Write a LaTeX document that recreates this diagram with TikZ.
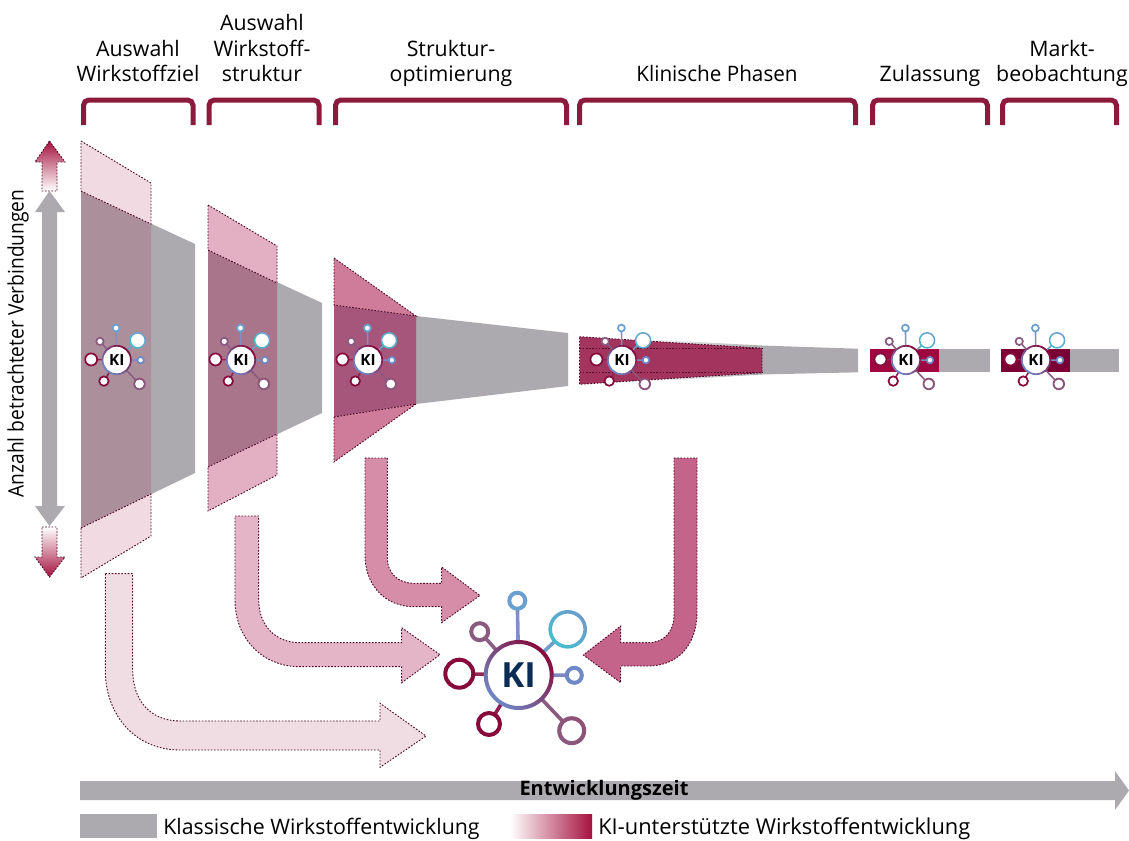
\documentclass[tikz,border=0pt]{standalone}
\usepackage{fontspec}
\setmainfont{Open Sans}
\definecolor{greyc}{HTML}{ACAAAE}
\definecolor{brk}{HTML}{8C1A3C}
\definecolor{dots}{HTML}{4E0A28}
\definecolor{crim}{HTML}{A5123F}
\definecolor{navy}{HTML}{0B2C54}
\tikzset{
  x=0.75pt,y=-0.75pt,
  dotline/.style={draw=dots,line width=0.7pt,dash pattern=on 1.2pt off 1.2pt},
  brack/.style={draw=brk,line width=3.75pt,rounded corners=4pt},
  head/.style={font=\fontsize{16}{19.1}\selectfont,align=center,anchor=base,text=black},
}
\newcommand{\solidring}[5]{% x y r lw col
  \fill[white] (#1,#2) circle[radius=#3];
  \draw[draw=#5,line width=\kiS*#4*0.75pt] (#1,#2) circle[radius=#3];
}
\newcommand{\gradring}[6]{% x y r lw colA colB
  \fill[white] (#1,#2) circle[radius=#3];
  \shade[left color=#5,right color=#6,shading angle=-45,even odd rule]
    (#1,#2) circle[radius=#3+#4/2] (#1,#2) circle[radius=#3-#4/2];
}
\newcommand{\spoke}[5]{\draw[draw=#5,line width=\kiS*3.6*0.75pt] (#1,#2) -- (#3,#4);}
\newcommand{\kiicon}[5]{% x y scale fontpt colour
  \def\kiS{#3}
  \begin{scope}[shift={(#1,#2)},scale=#3]
    \spoke{0}{0}{-1.4}{-74.3}{spA}
    \spoke{0}{0}{49}{-45.7}{spB}
    \spoke{0}{0}{55.6}{0.3}{spC}
    \spoke{0}{0}{53}{55.7}{spD}
    \spoke{0}{0}{-29.7}{49}{spE}
    \spoke{0}{0}{-59.4}{-1.3}{spF}
    \spoke{0}{0}{-39}{-43.3}{spG}
    \solidring{-1.4}{-74.3}{8}{4}{nA}
    \gradring{49}{-45.7}{17.5}{3.6}{nBa}{nBb}
    \solidring{55.6}{0.3}{7.5}{4}{nC}
    \gradring{53}{55.7}{12.5}{4}{nD}{nG}
    \solidring{-29.7}{49}{11}{4}{nE}
    \solidring{-59.4}{-1.3}{14}{4}{nE}
    \solidring{-39}{-43.3}{8.5}{4}{nG}
    \gradring{0}{0}{33}{4}{nE}{nC}
    \node[font=\bfseries\fontsize{#4}{#4}\selectfont,text=#5,inner sep=0pt] at (0,0) {KI};
  \end{scope}
}
\definecolor{spA}{HTML}{8090C4}\definecolor{spB}{HTML}{6C9FC9}
\definecolor{spC}{HTML}{7F88C0}\definecolor{spD}{HTML}{8A5A7F}
\definecolor{spE}{HTML}{8D2050}\definecolor{spF}{HTML}{902850}
\definecolor{spG}{HTML}{8A5F85}
\definecolor{nA}{HTML}{6AA0CF}\definecolor{nBa}{HTML}{6C9CCB}\definecolor{nBb}{HTML}{45BDD0}
\definecolor{nC}{HTML}{6F88C6}\definecolor{nD}{HTML}{8F4F75}\definecolor{nE}{HTML}{860A3A}
\definecolor{nG}{HTML}{8B5A80}
\begin{document}
\begin{tikzpicture}
\useasboundingbox (0,0) rectangle (1129,840);
% headers
\node[head] (h1) at (138,81.5) {Auswahl\\Wirkstoffziel};
\node[head] (h2) at (262,81.5) {Auswahl\\Wirkstoff-\\struktur};
\node[head] (h3) at (451,81.5) {Struktur-\\optimierung};
\node[head] (h4) at (717,81.5) {\scalebox{0.97}[1]{Klinische Phasen}};
\node[head] (h5) at (930,81.5) {Zulassung};
\node[head] (h6) at (1062,81.5) {Markt-\\beobachtung};
% brackets
\draw[brack] (83.5,125) -- (83.5,100) -- (193,100) -- (193,125);
\draw[brack] (209,125) -- (209,100) -- (319,100) -- (319,125);
\draw[brack] (335.5,125) -- (335.5,100) -- (566.5,100) -- (566.5,125);
\draw[brack] (579.5,125) -- (579.5,100) -- (855.5,100) -- (855.5,125);
\draw[brack] (872.5,125) -- (872.5,100) -- (987.5,100) -- (987.5,125);
\draw[brack] (1002.5,125) -- (1002.5,100) -- (1116.5,100) -- (1116.5,125);
% grey funnels
\fill[greyc] (81,191) -- (195,244) -- (195,473) -- (81,528) -- cycle;
\fill[greyc] (208,250) -- (322,303) -- (322,413) -- (208,467) -- cycle;
\fill[greyc] (334,305) -- (416,316) -- (568,333) -- (568,386) -- (416,404) -- (334,417) -- cycle;
\shade[left color=white,right color=greyc] (640,339) -- (762,345.5) -- (762,374.5) -- (640,382) -- cycle;
\fill[greyc] (761,345.5) -- (858,348.7) -- (858,372.3) -- (761,374.5) -- cycle;
\fill[greyc] (939,349) rectangle (990,372);
\fill[greyc] (1070,349) rectangle (1119,372);
% pink funnel 1
\fill[fill={rgb,255:red,171;green,144;blue,156}] (81,191) -- (151,224) -- (151,494) -- (81,528) -- cycle;
\path[dotline,fill={rgb,255:red,242;green,218;blue,226}] (81,141) -- (151,183) -- (151,224) -- (81,191) -- cycle;
\path[dotline,fill={rgb,255:red,242;green,218;blue,226}] (81,528) -- (151,494) -- (151,536) -- (81,578) -- cycle;
% pink funnel 2
\fill[fill={rgb,255:red,169;green,117;blue,139}] (208,250) -- (277,283) -- (277,434) -- (208,467) -- cycle;
\path[dotline,fill={rgb,255:red,226;green,175;blue,195}] (208,205) -- (277,246) -- (277,283) -- (208,250) -- cycle;
\path[dotline,fill={rgb,255:red,226;green,175;blue,195}] (208,467) -- (277,434) -- (277,475) -- (208,511) -- cycle;
% pink funnel 3
\path[fill={rgb,255:red,166;green,86;blue,122}] (334,305) -- (416,316) -- (416,404) -- (334,417) -- cycle;
\path[dotline,fill={rgb,255:red,206;green,124;blue,153}] (334,258) -- (416,316) -- (334,305) -- cycle;
\path[dotline,fill={rgb,255:red,206;green,124;blue,153}] (334,417) -- (416,404) -- (334,462) -- cycle;
% band in clinical phase
\path[dotline,fill={rgb,255:red,163;green,52;blue,94}] (579.5,336.7) -- (762,348.3) -- (762,372.7) -- (579.5,384.3) -- cycle;
\draw[dotline] (579.5,348.3) -- (762,348.3);
\draw[dotline] (579.5,372.7) -- (762,372.7);
\fill[fill={rgb,255:red,160;green,6;blue,63}] (870,349) rectangle (939,372);
\fill[fill={rgb,255:red,122;green,0;blue,53}] (1001,349) rectangle (1070,372);
% small icons
\kiicon{116.7}{360}{0.43}{11.5}{black}
\kiicon{241}{360}{0.43}{11.5}{black}
\kiicon{368}{360}{0.43}{11.5}{black}
\kiicon{622}{360}{0.43}{11.5}{black}
\kiicon{906}{360}{0.43}{11.5}{black}
\kiicon{1036}{360}{0.43}{11.5}{black}
% large arrows
\path[dotline,fill={rgb,255:red,239;green,221;blue,227}] (105.3,573.7) -- (132.7,573.7) -- (132.7,670) .. controls (132.7,700) and (150,721) .. (180,721) -- (380,721) -- (380,703.3) -- (426,736) -- (380,767.3) -- (380,750) -- (180,750) .. controls (135,750) and (105.3,715) .. (105.3,670) -- cycle;
\path[dotline,fill={rgb,255:red,228;green,180;blue,199}] (235,516) -- (258.7,516) -- (258.7,600) .. controls (258.7,625) and (275,642.7) .. (300,642.7) -- (401.7,642.7) -- (401.7,627.7) -- (440,654.7) -- (401.7,682.7) -- (401.7,666.7) -- (300,666.7) .. controls (262,666.7) and (235,638) .. (235,600) -- cycle;
\path[dotline,fill={rgb,255:red,214;green,142;blue,168}] (365,458) -- (387.3,458) -- (387.3,558) .. controls (387.3,573) and (398,583.3) .. (414,583.3) -- (441.7,583.3) -- (441.7,567) -- (480,595.5) -- (441.7,622.5) -- (441.7,606.7) -- (414,606.7) .. controls (385,606.7) and (365,585) .. (365,555) -- cycle;
\path[dotline,fill={rgb,255:red,197;green,100;blue,138}] (674,458) -- (697,458) -- (697,612) .. controls (697,645) and (678,666) .. (648,666) -- (620.7,666) -- (620.7,682.7) -- (583.3,655) -- (620.7,626) -- (620.7,642.7) -- (648,642.7) .. controls (664,642.7) and (674,632) .. (674,615) -- cycle;
% large icon
\kiicon{518.7}{675}{1}{26}{navy}
% vertical arrows
\fill[greyc] (49.5,191) -- (65,212) -- (57,212) -- (57,506) -- (65,506) -- (49.5,526) -- (35,506) -- (42,506) -- (42,212) -- (35,212) -- cycle;
\shade[top color=crim,bottom color=white] (49.5,141) -- (65,162) -- (57,162) -- (57,191) -- (42,191) -- (42,162) -- (35,162) -- cycle;
\draw[dotline] (49.5,141) -- (65,162) -- (57,162) -- (57,191) -- (42,191) -- (42,162) -- (35,162) -- cycle;
\shade[top color=white,bottom color=crim] (42,527) -- (57,527) -- (57,557) -- (65,557) -- (49.5,577) -- (35,557) -- (42,557) -- cycle;
\draw[dotline] (42,527) -- (57,527) -- (57,557) -- (65,557) -- (49.5,577) -- (35,557) -- (42,557) -- cycle;
\node[rotate=90,inner sep=0pt,font=\fontsize{16}{19}\selectfont] (yl) at (18,343.5) {\scalebox{0.9}[1]{Anzahl betrachteter Verbindungen}};
% time arrow
\fill[greyc] (80,781) -- (1115,781) -- (1115,771) -- (1129,790.5) -- (1115,810) -- (1115,800) -- (80,800) -- cycle;
\node[font=\bfseries\fontsize{15}{18}\selectfont,inner sep=0pt] (t) at (604,790) {Entwicklungszeit};
% legend
\fill[greyc] (80,814) rectangle (157,838);
\node[anchor=base west,inner sep=0pt,font=\fontsize{16}{19}\selectfont] (l1) at (163,834) {Klassische Wirkstoffentwicklung};
\shade[left color=white,right color=crim] (510,814) rectangle (592,838);
\node[anchor=base west,inner sep=0pt,font=\fontsize{16.4}{19}\selectfont] (l2) at (598,834) {KI-unterstützte Wirkstoffentwicklung};
\end{tikzpicture}
\end{document}
